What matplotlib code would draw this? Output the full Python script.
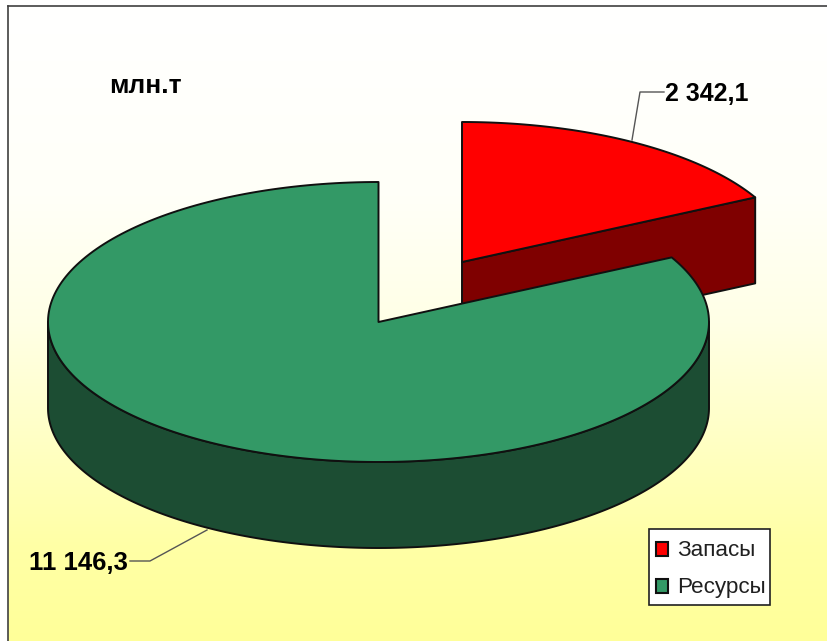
from __future__ import annotations

import matplotlib
matplotlib.use("Agg")
import matplotlib.pyplot as plt
import numpy as np
from matplotlib.colors import LinearSegmentedColormap
from matplotlib.patches import Polygon, Rectangle

W, H = 827, 641

categories = ["Запасы", "Ресурсы"]
values = [2342.1, 11146.3]
value_labels = ["2 342,1", "11 146,3"]
top_colors = ["#ff0000", "#339966"]
side_colors = ["#7f0000", "#1c4d33"]
unit_label = "млн.т"

RX, RY, DEPTH = 330.5, 140, 86
RED_CENTER = (462, 262)
GREEN_CENTER = (378.5, 322)
EDGE = dict(edgecolor="#101010", linewidth=1.4, joinstyle="round")


def rim(center, start, stop, n=240, drop=0):
    # points along the ellipse, angles in degrees counted anticlockwise on screen
    t = np.radians(np.linspace(start, stop, n))
    return np.column_stack(
        [center[0] + RX * np.cos(t), center[1] - RY * np.sin(t) + drop]
    )


def main() -> None:
    fig = plt.figure(figsize=(W / 100, H / 100), dpi=100, facecolor="white")
    ax = fig.add_axes([0, 0, 1, 1])
    ax.set_xlim(0, W)
    ax.set_ylim(H, 0)
    ax.axis("off")

    cmap = LinearSegmentedColormap.from_list(
        "bg",
        [
            (0.0, "#ffffff"),
            (0.30, "#fffff8"),
            (0.50, "#ffffe6"),
            (0.72, "#ffffbe"),
            (0.85, "#ffffa6"),
            (1.0, "#ffff99"),
        ],
    )
    gradient = np.linspace(0, 1, 256).reshape(-1, 1)
    ax.imshow(gradient, cmap=cmap, extent=(8, W, H, 6), aspect="auto", zorder=0)
    ax.set_xlim(0, W)
    ax.set_ylim(H, 0)
    ax.plot([8, 8], [H, 6], color="#404040", lw=1.2, zorder=1)
    ax.plot([8, W], [6, 6], color="#404040", lw=1.2, zorder=1)

    # slice sweep from the values, first slice clockwise from 12 o'clock
    sweep = 360 * values[0] / sum(values)
    cut = 90 - sweep

    # red slice, pulled out up and right
    cx, cy = RED_CENTER
    edge_pt = rim(RED_CENTER, cut, cut, n=1)[0]
    ax.add_patch(
        Polygon(
            [(cx, cy), edge_pt, (edge_pt[0], edge_pt[1] + DEPTH), (cx, cy + DEPTH)],
            facecolor=side_colors[0],
            zorder=2,
            **EDGE,
        )
    )
    ax.add_patch(
        Polygon(
            np.vstack([[cx, cy], rim(RED_CENTER, 90, cut)]),
            facecolor=top_colors[0],
            zorder=3,
            **EDGE,
        )
    )

    # green slice: wall first, then the lid
    lower = rim(GREEN_CENTER, 180, 360)
    wall = np.vstack([lower, rim(GREEN_CENTER, 360, 180, drop=DEPTH)])
    ax.add_patch(Polygon(wall, facecolor=side_colors[1], zorder=4, **EDGE))
    ax.add_patch(
        Polygon(
            np.vstack([GREEN_CENTER, rim(GREEN_CENTER, 90, 360 + cut)]),
            facecolor=top_colors[1],
            zorder=5,
            **EDGE,
        )
    )

    # leader lines and value labels
    ax.plot([664, 640, 632], [92, 92, 140], color="#555555", lw=1.0, zorder=6)
    ax.plot([130, 150, 207], [561, 561, 530], color="#555555", lw=1.0, zorder=6)
    font = ["Liberation Sans", "DejaVu Sans"]
    ax.text(665, 94, value_labels[0], family=font, weight="bold", fontsize=18,
            ha="left", va="center", color="#000000", zorder=7)
    ax.text(128, 563, value_labels[1], family=font, weight="bold", fontsize=18.5,
            ha="right", va="center", color="#000000", zorder=7)
    ax.text(109, 86, unit_label, family=font, weight="bold", fontsize=19,
            ha="left", va="center", color="#000000", zorder=7)

    # legend
    ax.add_patch(Rectangle((649, 529), 121, 76, facecolor="white",
                           edgecolor="#202020", linewidth=1.2, zorder=7))
    for name, color, y in zip(categories, top_colors, [549, 586]):
        ax.add_patch(Rectangle((656, y - 7), 12, 14, facecolor=color,
                               edgecolor="#101010", linewidth=1.5, zorder=8))
        ax.text(677, y + 2, name, family=font, fontsize=16.2, ha="left", va="center",
                color="#202020", zorder=8)

    fig.savefig("out.png", dpi=100)


if __name__ == "__main__":
    main()
